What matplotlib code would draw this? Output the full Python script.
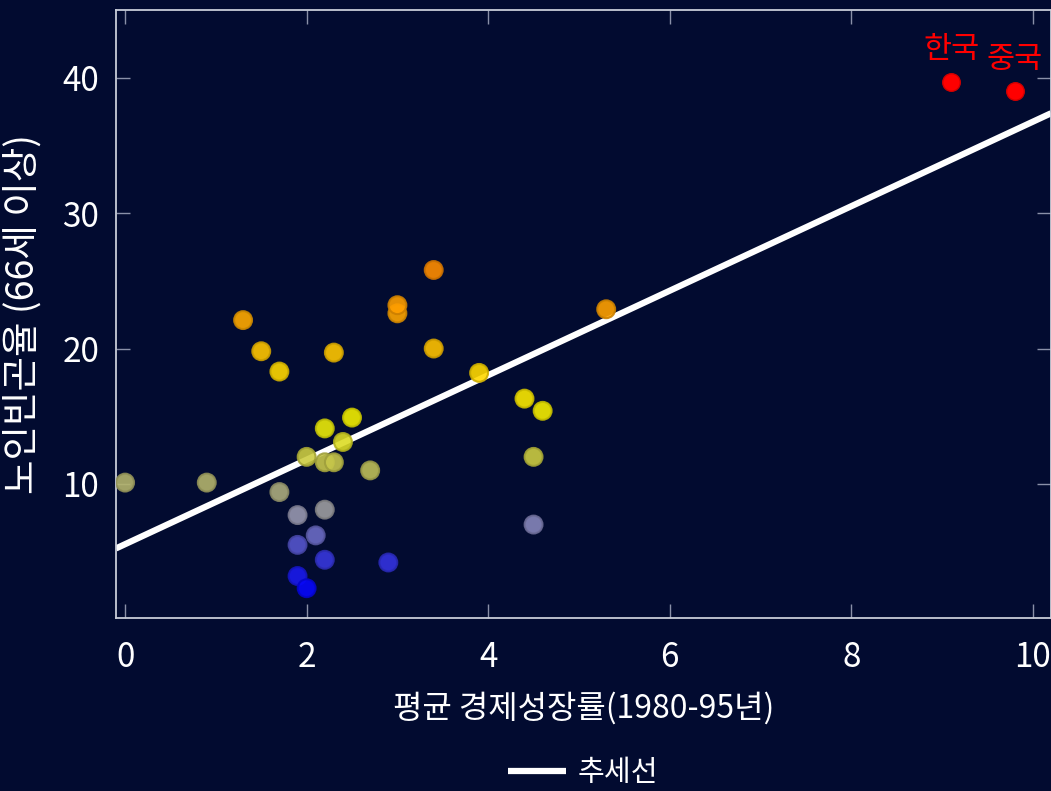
import numpy as np
import matplotlib
matplotlib.use("Agg")
import matplotlib.pyplot as plt
from matplotlib.colors import LinearSegmentedColormap, Normalize

plt.rcParams['font.family'] = ['Noto Sans CJK KR', 'DejaVu Sans']

# ---- data ----
growth = [0.0, 0.9, 1.3, 1.5, 1.7, 1.7, 1.9, 1.9, 1.9, 2.0, 2.0, 2.1, 2.2, 2.2,
          2.2, 2.2, 2.3, 2.3, 2.4, 2.5, 2.7, 2.9, 3.0, 3.0, 3.4, 3.4, 3.9, 4.4,
          4.6, 4.5, 4.5, 5.3]
poverty = [10.1, 10.1, 22.1, 19.8, 18.3, 9.4, 7.7, 5.5, 3.2, 2.3, 12.0, 6.2, 14.1, 11.6,
           8.1, 4.4, 11.6, 19.7, 13.1, 14.9, 11.0, 4.2, 22.6, 23.2, 25.8, 20.0, 18.2, 16.3,
           15.4, 12.0, 7.0, 22.9]
highlight_names = ['한국', '중국']
highlight_growth = [9.1, 9.8]
highlight_poverty = [39.7, 39.0]
trend_intercept = 5.55
trend_slope = 3.12
x_ticks = [0, 2, 4, 6, 8, 10]
y_ticks = [10, 20, 30, 40]
x_label = '평균 경제성장률(1980-95년)'
y_label = '노인빈곤율 (66세 이상)'
legend_label = '추세선'

BG = '#020b30'
cmap = LinearSegmentedColormap.from_list('pov', [
    (0.0, '#0000ff'),
    (3/24, '#4646d2'),
    (5.5/24, '#9696b4'),
    (7/24, '#a8a884'),
    (9/24, '#bebe5a'),
    (12.5/24, '#f0f000'),
    (15/24, '#ffe600'),
    (18/24, '#ffc300'),
    (21/24, '#ffa000'),
    (1.0, '#ff8c00'),
])
norm = Normalize(vmin=2, vmax=26)

fig = plt.figure(figsize=(10.51, 7.91), dpi=100, facecolor=BG)
ax = fig.add_axes([116/1051, 1-618/791, 1-116/1051, (618-10)/791])
ax.set_facecolor(BG)

face = cmap(norm(np.array(poverty)))
face[:, 3] = 0.9
edge = face.copy()
edge[:, :3] *= 0.8
ax.scatter(growth, poverty, s=165, c=face, edgecolors=edge, linewidths=1.5, zorder=3)

ax.scatter(highlight_growth, highlight_poverty, s=160, c='#ff0000', edgecolors='#d00000',
           linewidths=1.0, zorder=4)
for name, gx, py in zip(highlight_names, highlight_growth, highlight_poverty):
    ax.annotate(name, (gx, py), xytext=(0, 12), textcoords='offset points',
                ha='center', va='bottom', color='#ff0000', fontsize=22)

xlim = (-0.1, 10.2)
xs = np.array(xlim)
ax.plot(xs, trend_intercept + trend_slope * xs, color='white', lw=4.5,
        solid_capstyle='butt', zorder=2, label=legend_label)

ax.set_xlim(*xlim)
ax.set_ylim(0.1, 45)
ax.set_xticks(x_ticks)
ax.set_yticks(y_ticks)
ax.tick_params(direction='in', length=10, width=1, color='#8a90a8',
               top=True, right=True, labelsize=24, labelcolor='white')
ax.tick_params(axis='x', pad=16)
ax.tick_params(axis='y', pad=12)
for s in ax.spines.values():
    s.set_color('#c8ccd8')
    s.set_linewidth(1.3)

ax.set_xlabel(x_label, color='white', fontsize=23, labelpad=12)
ax.set_ylabel(y_label, color='white', fontsize=27, labelpad=14)

leg = fig.legend(loc='center', bbox_to_anchor=(583/1051, 1-773/791), frameon=False,
                 fontsize=21, handlelength=2.0, handletextpad=0.4)
for t in leg.get_texts():
    t.set_color('white')

fig.savefig('out.png', dpi=100, facecolor=BG)
